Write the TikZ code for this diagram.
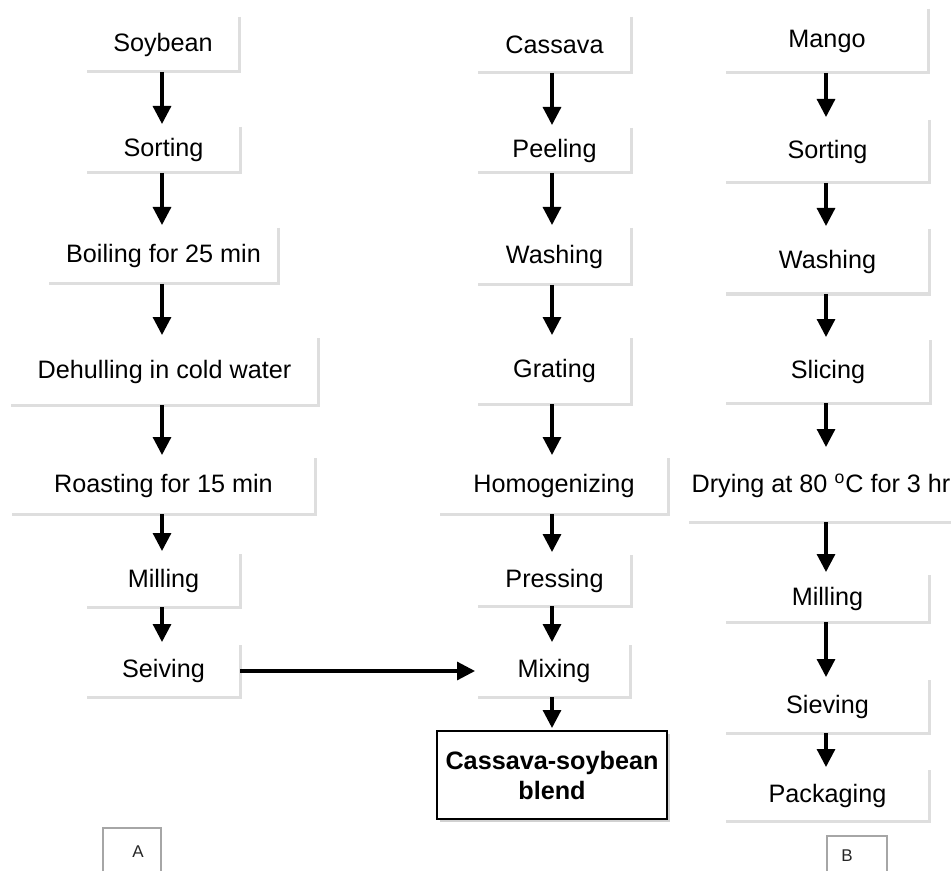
\documentclass[tikz,border=0pt]{standalone}
\usepackage{fontspec}
\setmainfont{Liberation Sans}
\usetikzlibrary{arrows.meta,shadows}
\begin{document}
\begin{tikzpicture}[x=0.5pt,y=-0.5pt,
  stepbox/.style={inner sep=0pt, outer sep=0pt, font=\fontsize{12.6}{15}\selectfont},
  sz/.style 2 args={minimum width=#1*0.5pt, minimum height=#2*0.5pt},
  edge/.style={draw=black!13, line width=1.5pt},
  arr/.style={line width=1.6pt, -{Triangle[length=9pt,width=9pt]}, shorten >=1.5pt},
  lab/.style={inner sep=0pt, font=\fontsize{8.5}{10}\selectfont, text=black!85},
  labedge/.style={draw=black!35, line width=0.8pt}]
\useasboundingbox (0,0) rectangle (951,871);
\coordinate (cL) at (162,0);
\coordinate (cM) at (552,0);
\coordinate (cR) at (826,0);
% left column
\node[stepbox, sz={152}{55}] (soy) at (163,44.5) {Soybean};
\node[stepbox, sz={153}{46}] (sortA) at (163.5,150) {Sorting};
\node[stepbox, sz={229}{56}] (boil) at (163.5,256) {Boiling for 25 min};
\node[stepbox, sz={307}{67}] (dehul) at (164.5,371.5) {Dehulling in cold water};
\node[stepbox, sz={303}{56}] (roast) at (163.5,486) {Roasting for 15 min};
\node[stepbox, sz={153}{53}] (millA) at (163.5,580.5) {Milling};
\node[stepbox, sz={153}{52}] (seiv) at (163.5,671) {Seiving};
% middle column
\node[stepbox, sz={153}{56}] (cas) at (554.5,45) {Cassava};
\node[stepbox, sz={153}{45}] (peel) at (554.5,150.5) {Peeling};
\node[stepbox, sz={153}{57}] (washM) at (554.5,256.5) {Washing};
\node[stepbox, sz={153}{66}] (grat) at (554.5,371) {Grating};
\node[stepbox, sz={228}{56}] (homo) at (554,486) {Homogenizing};
\node[stepbox, sz={153}{51}] (pres) at (554.5,580.5) {Pressing};
\node[stepbox, sz={152}{52}] (mix) at (554,671) {Mixing};
\node[stepbox, sz={230}{88}, draw=black, line width=0.6pt, fill=white,
  align=center, font=\fontsize{12.6}{15}\selectfont\bfseries,
  drop shadow={shadow xshift=1.5pt, shadow yshift=-1.5pt, fill=black!18, opacity=1}] (blend) at (552,775) {Cassava-soybean\\blend};
% right column
\node[stepbox, sz={202}{64}] (mango) at (827,41) {Mango};
\node[stepbox, sz={203}{63}] (sortB) at (827.5,151.5) {Sorting};
\node[stepbox, sz={203}{65}] (washB) at (827.5,261.5) {Washing};
\node[stepbox, sz={204}{63}] (slic) at (828,371.5) {Slicing};
\node[stepbox, sz={264}{72}] (dry) at (821,486) {Drying at 80 $^{\mathrm{o}}$C for 3 hr};
\node[stepbox, sz={203}{47}] (millB) at (827.5,598.5) {Milling};
\node[stepbox, sz={203}{53}] (sievB) at (827.5,706.5) {Sieving};
\node[stepbox, sz={203}{51}] (pack) at (827.5,795.5) {Packaging};
% box edges
\foreach \n in {soy,sortA,boil,dehul,roast,millA,seiv,cas,peel,washM,grat,homo,pres,mix,mango,sortB,washB,slic,millB,sievB,pack}
  \draw[edge] (\n.north east) -- (\n.south east) -- (\n.south west);
\draw[edge] (dry.south east) -- (dry.south west);
% arrows left
\draw[arr] (soy.south -| cL) -- (sortA.north -| cL);
\draw[arr] (sortA.south -| cL) -- (boil.north -| cL);
\draw[arr] (boil.south -| cL) -- (dehul.north -| cL);
\draw[arr] (dehul.south -| cL) -- (roast.north -| cL);
\draw[arr] (roast.south -| cL) -- (millA.north -| cL);
\draw[arr] (millA.south -| cL) -- (seiv.north -| cL);
% arrows middle
\draw[arr] (cas.south -| cM) -- (peel.north -| cM);
\draw[arr] (peel.south -| cM) -- (washM.north -| cM);
\draw[arr] (washM.south -| cM) -- (grat.north -| cM);
\draw[arr] (grat.south -| cM) -- (homo.north -| cM);
\draw[arr] (homo.south -| cM) -- (pres.north -| cM);
\draw[arr] (pres.south -| cM) -- (mix.north -| cM);
\draw[arr] (mix.south -| cM) -- (blend.north -| cM);
\draw[arr] (seiv.east) -- (mix.west);
% arrows right
\draw[arr] (mango.south -| cR) -- (sortB.north -| cR);
\draw[arr] (sortB.south -| cR) -- (washB.north -| cR);
\draw[arr] (washB.south -| cR) -- (slic.north -| cR);
\draw[arr] (slic.south -| cR) -- (dry.north -| cR);
\draw[arr] (dry.south -| cR) -- (millB.north -| cR);
\draw[arr] (millB.south -| cR) -- (sievB.north -| cR);
\draw[arr] (sievB.south -| cR) -- (pack.north -| cR);
% panel labels
\node[lab] (la) at (138,852) {A};
\draw[labedge] (103,871) -- (103,828) -- (161,828) -- (161,871);
\node[lab] (lb) at (847,856) {B};
\draw[labedge] (827,871) -- (827,836) -- (887,836) -- (887,871);
\end{tikzpicture}
\end{document}
